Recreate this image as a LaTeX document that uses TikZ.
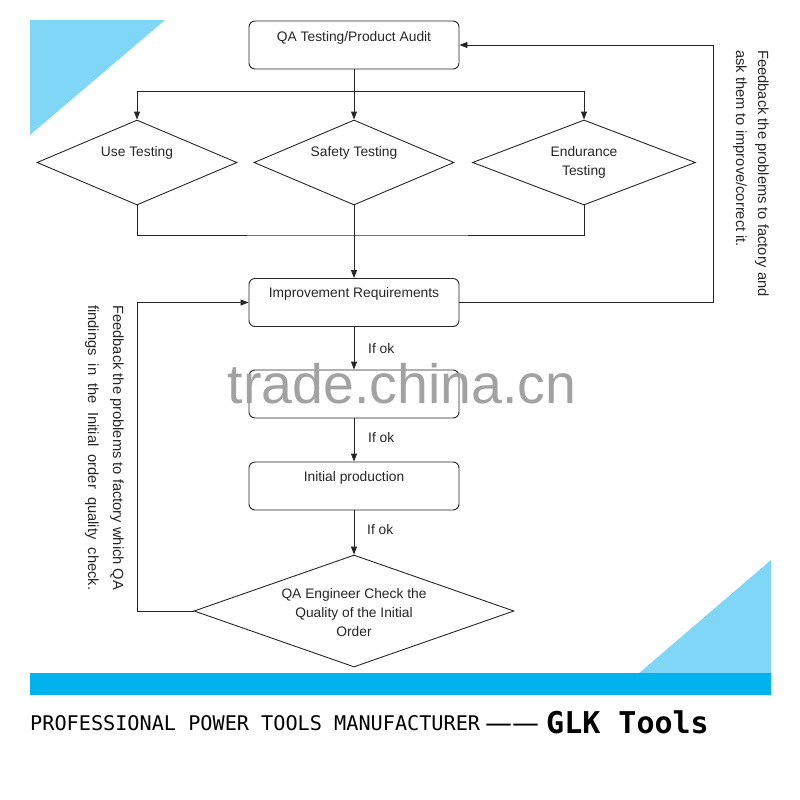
\documentclass[tikz,border=0pt]{standalone}
\usepackage{fontspec}
\setmainfont{Liberation Sans}
\newfontfamily\monof{DejaVu Sans Mono}
\newfontfamily\dejavf{DejaVu Sans}
\usetikzlibrary{shapes.geometric,arrows.meta}
\definecolor{lightcyan}{HTML}{80D6F7}
\definecolor{barcyan}{HTML}{00B2EE}
\definecolor{wmgray}{HTML}{A2A2A2}
\begin{document}
\begin{tikzpicture}[x=1pt,y=-1pt,
  font=\fontsize{13.8}{15}\selectfont,
  ln/.style={line width=0.9pt, draw=black!85},
  box/.style={ln, rounded corners=6pt, minimum width=210pt, minimum height=48pt, inner sep=0pt},
  dia/.style={ln, diamond, inner sep=0pt},
  arr/.style={ln, -{Triangle[length=8pt,width=6pt]}},
  txt/.style={inner sep=0pt, text=black!85},
  side/.style={inner sep=0pt, rotate=-90, anchor=north west, align=left, text=black!85,
    font=\fontsize{14}{14}\selectfont}
]
\useasboundingbox (0,0) rectangle (800,800);
% decorations
\fill[lightcyan] (30,20) -- (165,20) -- (30,135) -- cycle;
\fill[lightcyan] (771,560) -- (771,674) -- (638,674) -- cycle;
\fill[barcyan] (30,673) rectangle (771,695);

% boxes
\node[box] (qa) at (354,45) {};
\node[txt] (qat) at (354,38) {QA Testing/Product Audit};
\node[dia, minimum width=200pt, minimum height=85pt] (use) at (137,162.5) {};
\node[txt] (uset) at (137,153) {Use Testing};
\node[dia, minimum width=200pt, minimum height=85pt] (saf) at (354,162.5) {};
\node[txt] (saft) at (354,153) {Safety Testing};
\node[dia, minimum width=223pt, minimum height=85pt] (end) at (584,162.5) {};
\node[txt, align=center, font=\fontsize{13.8}{19}\selectfont] (endt) at (584,162.5) {Endurance\\Testing};
\node[box] (imp) at (354,302.5) {};
\node[txt] (impt) at (354,294) {Improvement Requirements};
\node[box] (hid) at (354,394) {};
\node[box] (ini) at (354,486) {};
\node[txt] (init) at (354,478) {Initial production};
\node[dia, minimum width=320pt, minimum height=112pt] (qae) at (354,611) {};
\node[txt, align=center, font=\fontsize{13.8}{19}\selectfont] (qaet) at (354,613) {QA Engineer Check the\\Quality of the Initial\\Order};

% connectors
\coordinate (split) at (354,91);
\coordinate (join) at (354,235);
\draw[ln] (qa.south) -- (split);
\draw[arr] (split) -| (use.north);
\draw[arr] (split) -- (saf.north);
\draw[arr] (split) -| (end.north);
\draw[ln] (use.south) |- (join) -| (end.south);
\draw[arr] (saf.south) -- (imp.north);
\coordinate (rfb) at (713,302.5);
\draw[arr] (imp.east) -- (rfb) |- (qa.east);
\coordinate (lfb) at (137,611);
\draw[arr] (qae.west) -- (lfb) |- (imp.west);
\draw[arr] (imp.south) -- (hid.north);
\draw[arr] (hid.south) -- (ini.north);
\draw[arr] (ini.south) -- (qae.north);
\node[txt, anchor=west] (ok1) at (368,349) {If ok};
\node[txt, anchor=west] (ok2) at (368,438) {If ok};
\node[txt, anchor=west] (ok3) at (367,530) {If ok};

% side texts
\node[side, font=\fontsize{14.7}{22}\selectfont] (rtext) at (769,50) {Feedback the problems to factory and\\ask them to improve/correct it.};
\node[side, font=\fontsize{14.7}{25}\selectfont] (ltext) at (124,305) {\makebox[285pt][s]{Feedback the problems to factory which QA}\\\makebox[285pt][s]{findings in the Initial order quality check.}};

% watermark
\node[inner sep=0pt, text=wmgray, font=\fontsize{55.5}{55}\selectfont] (wm) at (402,384) {trade.china.cn};

% footer
\node[inner sep=0pt, anchor=base west, font=\monof\fontsize{20.2}{20}\selectfont] (foot) at (30,730) {PROFESSIONAL POWER TOOLS MANUFACTURER};
\node[inner sep=0pt, anchor=base west, font=\dejavf\fontsize{27}{27}\selectfont] (dash) at (485,732) {——};
\node[inner sep=0pt, anchor=base west, font=\monof\bfseries\fontsize{30}{30}\selectfont] (glk) at (546,733) {GLK Tools};
\end{tikzpicture}
\end{document}
